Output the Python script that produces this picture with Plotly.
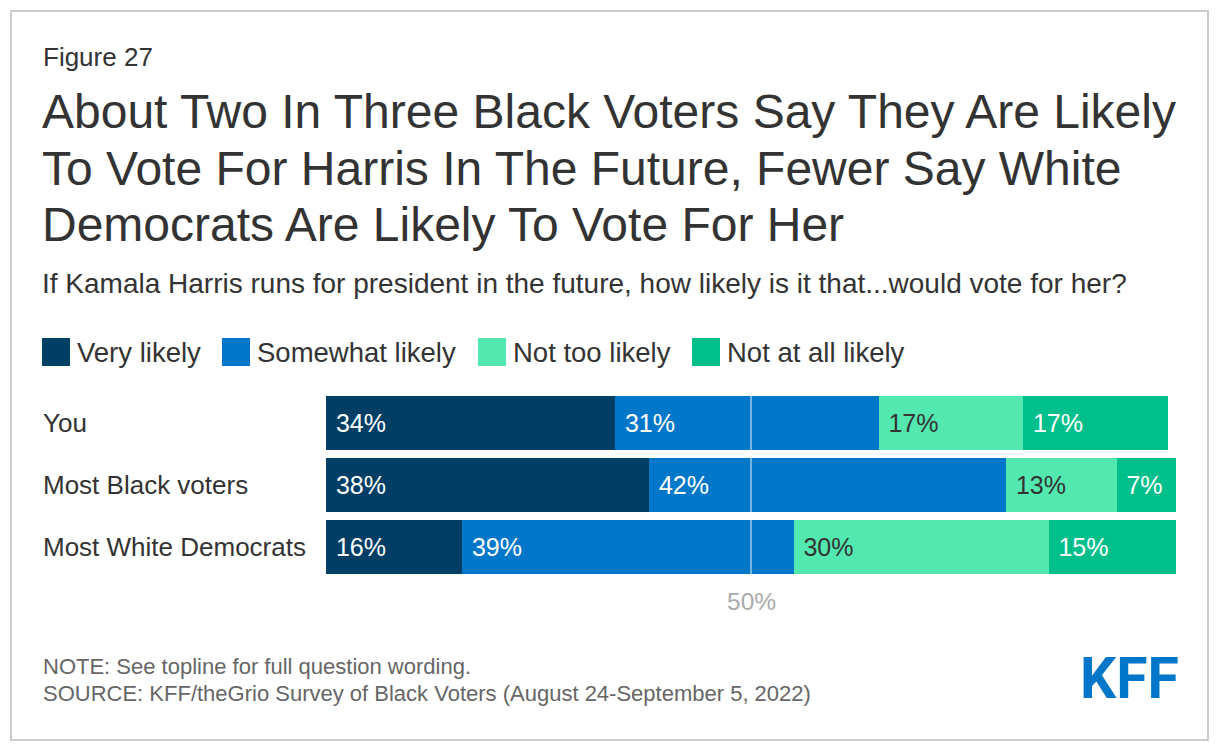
import plotly.graph_objects as go

# ---- data ----
groups = ["You", "Most Black voters", "Most White Democrats"]
series_names = ["Very likely", "Somewhat likely", "Not too likely", "Not at all likely"]
very_likely = [34, 38, 16]
somewhat_likely = [31, 42, 39]
not_too_likely = [17, 13, 30]
not_at_all_likely = [17, 7, 15]
tick_vals = [50]
tick_text = ["50%"]

COLORS = ["#003e66", "#0077c8", "#52e8b0", "#00bf8a"]
LABEL_COLORS = ["#ffffff", "#ffffff", "#333333", "#ffffff"]
FONT = "Liberation Sans, Arial, Helvetica, sans-serif"

W, H = 1220, 754
OFF = 8  # page body margin: figure sits 8px in from the window corner
PLOT_W, PLOT_H = 850, 186
L, T = 326 - OFF, 392 - OFF
R, B = W - L - PLOT_W, H - T - PLOT_H


def px(x):
    """window pixel x -> paper x"""
    return (x - OFF - L) / PLOT_W


def py(y):
    """window pixel y (from top) -> paper y"""
    return (T + PLOT_H - (y - OFF)) / PLOT_H


fig = go.Figure()
for name, vals, color, tcolor in zip(
    series_names,
    [very_likely, somewhat_likely, not_too_likely, not_at_all_likely],
    COLORS,
    LABEL_COLORS,
):
    fig.add_trace(
        go.Bar(
            y=groups,
            x=vals,
            name=name,
            orientation="h",
            marker=dict(color=color, line=dict(width=0)),
            text=[f"\u00a0{v}%" for v in vals],
            textposition="inside",
            insidetextanchor="start",
            textfont=dict(family=FONT, size=25, color=tcolor),
            constraintext="none",
            hoverinfo="skip",
            showlegend=False,
        )
    )

ann = []
# header
ann.append(dict(text="Figure 27", x=px(41), y=py(57), font=dict(size=26, color="#333333")))
title_lines = [
    "About Two In Three Black Voters Say They Are Likely",
    "To Vote For Harris In The Future, Fewer Say White",
    "Democrats Are Likely To Vote For Her",
]
for i, line in enumerate(title_lines):
    ann.append(dict(text=line, x=px(40), y=py(111 + 57 * i), font=dict(size=48, color="#333333")))
ann.append(
    dict(
        text="If Kamala Harris runs for president in the future, how likely is it that...would vote for her?",
        x=px(40),
        y=py(283),
        font=dict(size=28, color="#333333"),
    )
)

# legend (drawn by hand so the swatches match the large squares)
shapes = []
swatch_x = [42, 222, 478, 692]
for name, color, sx in zip(series_names, COLORS, swatch_x):
    shapes.append(
        dict(type="rect", xref="paper", yref="paper", x0=px(sx), x1=px(sx + 28),
             y0=py(366), y1=py(338), fillcolor=color, line=dict(width=0))
    )
    ann.append(dict(text=name, x=px(sx + 33), y=py(352), font=dict(size=27.5, color="#333333")))

# category labels, left aligned
for g in groups:
    ann.append(dict(text=g, x=px(41), y=g, yref="y", font=dict(size=26, color="#333333")))

# 50% axis label
ann.append(
    dict(text=tick_text[0], x=tick_vals[0], xref="x", xanchor="center", y=py(601),
         font=dict(size=24.5, color="#aaaaaa"))
)

# footer
ann.append(dict(text="NOTE: See topline for full question wording.", x=px(41), y=py(666),
                font=dict(size=22, color="#666666")))
ann.append(dict(text="SOURCE: KFF/theGrio Survey of Black Voters (August 24-September 5, 2022)",
                x=px(41), y=py(693), font=dict(size=22, color="#666666")))
ann.append(dict(text="<b>KFF</b>", x=px(1129), xanchor="center", y=py(678),
                font=dict(family="Roboto, Liberation Sans, sans-serif", size=57, color="#0077c8")))

for a in ann:
    a.setdefault("xref", "paper")
    a.setdefault("yref", "paper")
    a.setdefault("xanchor", "left")
    a.setdefault("yanchor", "middle")
    a["showarrow"] = False
    a["font"].setdefault("family", FONT)

# 50% gridline on top of the bars
shapes.append(
    dict(type="line", xref="x", yref="paper", x0=tick_vals[0], x1=tick_vals[0], y0=0, y1=1,
         line=dict(color="rgba(255,255,255,0.45)", width=2), layer="above")
)
# outer frame
shapes.append(
    dict(type="rect", xref="paper", yref="paper", x0=px(11), x1=px(1208), y0=py(740), y1=py(11),
         line=dict(color="#cccccc", width=2), fillcolor="rgba(0,0,0,0)", layer="below")
)

fig.update_layout(
    width=W,
    height=H,
    margin=dict(l=L, r=R, t=T, b=B, pad=0),
    barmode="stack",
    bargap=0.129,
    paper_bgcolor="#ffffff",
    plot_bgcolor="#ffffff",
    font=dict(family=FONT, color="#333333"),
    annotations=ann,
    shapes=shapes,
    showlegend=False,
)
fig.update_xaxes(range=[0, 100], showgrid=False, zeroline=False, showticklabels=False,
                 showline=False, fixedrange=True)
fig.update_yaxes(autorange="reversed", showgrid=False, zeroline=False, showticklabels=False,
                 showline=False, fixedrange=True)

fig.write_html("out.html")
